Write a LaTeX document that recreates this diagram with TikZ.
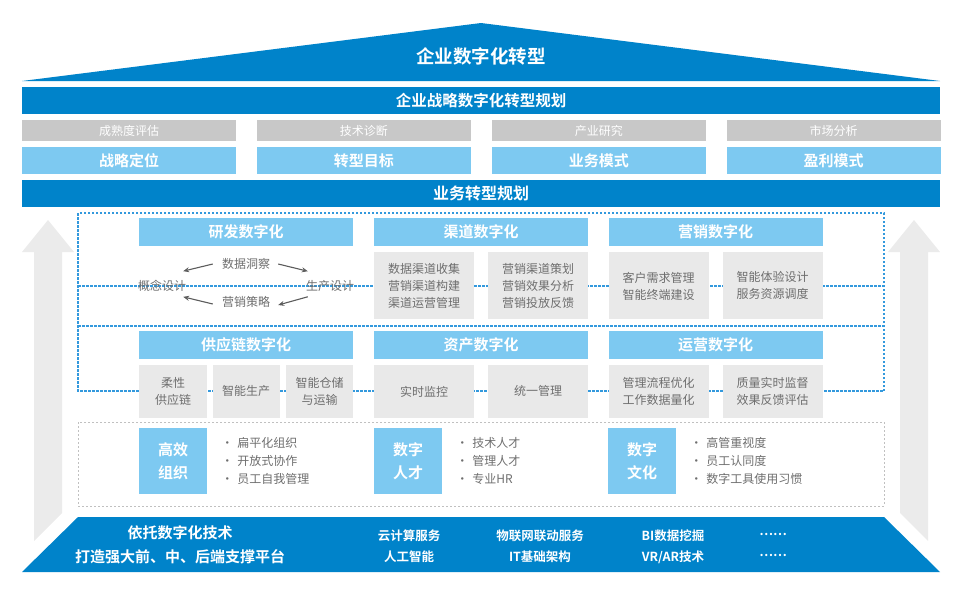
\documentclass[tikz,border=0pt]{standalone}
\usepackage{fontspec}
\setmainfont{Noto Sans CJK SC}[BoldFont={Noto Sans CJK SC Bold}]
\usetikzlibrary{positioning, calc, arrows.meta}
\definecolor{deepblue}{HTML}{0083CA}
\definecolor{skyblue}{HTML}{7DC9F1}
\definecolor{tagGray}{HTML}{C8C8C8}
\definecolor{cellGray}{HTML}{E9E9E9}
\definecolor{txtGray}{HTML}{6E6E6E}
\definecolor{arrowGray}{HTML}{EBEBEB}
\definecolor{arrowDark}{HTML}{5C5C5C}
\definecolor{dotBlue}{HTML}{3399DD}
\definecolor{frameGray}{HTML}{C0C0C0}

\begin{document}
\begin{tikzpicture}[
    x=1pt, y=-1pt,
    band/.style={fill=deepblue, text=white, inner sep=0pt,
        minimum width=918pt, minimum height=27pt},
    tag/.style={fill=tagGray, text=white, inner sep=0pt,
        minimum width=214pt, minimum height=21pt,
        font=\fontsize{12pt}{14pt}\selectfont},
    goal/.style={fill=skyblue, text=white, inner sep=0pt,
        minimum width=214pt, minimum height=27pt,
        font=\fontsize{15pt}{18pt}\selectfont\bfseries},
    head/.style={fill=skyblue, text=white, inner sep=0pt,
        minimum width=214pt, minimum height=28pt,
        font=\fontsize{15pt}{18pt}\selectfont\bfseries},
    graycell/.style={fill=cellGray, text=txtGray, inner sep=0pt, align=center,
        minimum width=100pt, font=\fontsize{12pt}{17pt}\selectfont},
    badge/.style={fill=skyblue, text=white, inner sep=0pt, align=center,
        minimum width=68pt, minimum height=66pt,
        font=\fontsize{15pt}{23pt}\selectfont\bfseries},
    points/.style={text=txtGray, inner sep=0pt, align=left, anchor=west,
        font=\fontsize{12pt}{18pt}\selectfont},
    cyclabel/.style={text=txtGray, inner sep=0pt,
        font=\fontsize{12pt}{14pt}\selectfont},
    cyc/.style={draw=arrowDark, line width=1.1pt,
        -{Stealth[length=6pt,width=5pt]}},
    bluedots/.style={draw=dotBlue, line width=1.2pt,
        dash pattern=on 2.5pt off 1.5pt},
    grayframe/.style={draw=frameGray, line width=0.8pt,
        dash pattern=on 2pt off 2pt},
    tech/.style={text=white, inner sep=0pt, align=center,
        font=\fontsize{12.5pt}{21pt}\selectfont\bfseries}
]
\useasboundingbox (0,0) rectangle (960,600);

% side arrows
\fill[arrowGray] (22,252) -- (48,220) -- (74,252) -- (62,252) -- (62,513)
    -- (34,541) -- (34,252) -- cycle;
\fill[arrowGray] (888,252) -- (914,220) -- (940,252) -- (928,252) -- (928,541)
    -- (900,513) -- (900,252) -- cycle;

% roof
\fill[deepblue] (22,81) -- (481,23) -- (940,81) -- cycle;
\node[text=white, font=\fontsize{18.5pt}{20pt}\selectfont\bfseries]
    (roof) at (481,56) {企业数字化转型};

\node[band, font=\fontsize{15.5pt}{18pt}\selectfont\bfseries]
    (strategy) at (481,100.5) {企业战略数字化转型规划};

\node[tag] (tag1) at (129,130.5) {成熟度评估};
\node[tag, right=20.5pt of tag1] (tag2) {技术诊断};
\node[tag, right=20.5pt of tag2] (tag3) {产业研究};
\node[tag, right=20.5pt of tag3] (tag4) {市场分析};

\node[goal, below=6pt of tag1] (goal1) {战略定位};
\node[goal, below=6pt of tag2] (goal2) {转型目标};
\node[goal, below=6pt of tag3] (goal3) {业务模式};
\node[goal, below=6pt of tag4] (goal4) {盈利模式};

\node[band, font=\fontsize{16pt}{18pt}\selectfont\bfseries]
    (business) at (481,193.5) {业务转型规划};

% dotted frame
\draw[bluedots] (78,213) rectangle (884,391);
\draw[bluedots] (78,286) -- (884,286);
\draw[bluedots] (78,326) -- (884,326);

\node[head] (rd) at (246,232) {研发数字化};
\node[head] (channel) at (481,232) {渠道数字化};
\node[head] (market) at (715.5,232) {营销数字化};
\node[head] (supply) at (246,344.5) {供应链数字化};
\node[head] (asset) at (481,344.5) {资产数字化};
\node[head] (ops) at (715.5,344.5) {运营数字化};

\node[cyclabel] (insight) at (246,264) {数据洞察};
\node[cyclabel] (tactic) at (246,302) {营销策略};
\node[cyclabel] (concept) at (162,286) {概念设计};
\node[cyclabel] (produce) at (330,286) {生产设计};

\draw[cyc] ([xshift=-9pt]insight.west)
    -- ([shift={(-3pt,9pt)}]concept.north east);
\draw[cyc] ([xshift=8pt]insight.east)
    -- ([shift={(2pt,9pt)}]produce.north west);
\draw[cyc] ([shift={(2pt,-5pt)}]produce.south west)
    -- ([shift={(8pt,-3pt)}]tactic.east);
\draw[cyc] ([shift={(-9pt,-2pt)}]tactic.west)
    -- ([shift={(-3pt,-5pt)}]concept.south east);

\node[graycell, minimum height=67pt, anchor=north west]
    (ch1) at ([yshift=-6pt]channel.south west) {数据渠道收集\\营销渠道构建\\渠道运营管理};
\node[graycell, minimum height=67pt, anchor=north east]
    (ch2) at ([yshift=-6pt]channel.south east) {营销渠道策划\\营销效果分析\\营销投放反馈};
\node[graycell, minimum height=67pt, anchor=north west]
    (mk1) at ([yshift=-6pt]market.south west) {客户需求管理\\智能终端建设};
\node[graycell, minimum height=67pt, anchor=north east]
    (mk2) at ([yshift=-6pt]market.south east) {智能体验设计\\服务资源调度};

\node[graycell, minimum height=53pt, minimum width=68pt, anchor=north west]
    (sp1) at ([yshift=-6pt]supply.south west) {柔性\\供应链};
\node[graycell, minimum height=53pt, minimum width=67pt, anchor=north]
    (sp2) at ([yshift=-6pt]supply.south) {智能生产};
\node[graycell, minimum height=53pt, minimum width=67pt, anchor=north east]
    (sp3) at ([yshift=-6pt]supply.south east) {智能仓储\\与运输};
\node[graycell, minimum height=53pt, anchor=north west]
    (as1) at ([yshift=-6pt]asset.south west) {实时监控};
\node[graycell, minimum height=53pt, anchor=north east]
    (as2) at ([yshift=-6pt]asset.south east) {统一管理};
\node[graycell, minimum height=53pt, anchor=north west]
    (op1) at ([yshift=-6pt]ops.south west) {管理流程优化\\工作数据量化};
\node[graycell, minimum height=53pt, anchor=north east]
    (op2) at ([yshift=-6pt]ops.south east) {质量实时监督\\效果反馈评估};

% organisation, talent, culture
\draw[grayframe] (78,422) rectangle (884,506);

\node[badge] (org) at (173,461) {高效\\组织};
\node[badge] (talent) at (408,461) {数字\\人才};
\node[badge] (culture) at (642,461) {数字\\文化};

\node[points, right=14pt of org] (orglist)
    {•\hspace{4pt}扁平化组织\\•\hspace{4pt}开放式协作\\•\hspace{4pt}员工自我管理};
\node[points, right=14pt of talent] (talentlist)
    {•\hspace{4pt}技术人才\\•\hspace{4pt}管理人才\\•\hspace{4pt}专业HR};
\node[points, right=14pt of culture] (culturelist)
    {•\hspace{4pt}高管重视度\\•\hspace{4pt}员工认同度\\•\hspace{4pt}数字工具使用习惯};

% platform
\fill[deepblue] (78,517) -- (884,517) -- (940,572) -- (22,572) -- cycle;
\node[tech, font=\fontsize{15pt}{24pt}\selectfont\bfseries]
    (base) at (180,545) {依托数字化技术\\打造强大前、中、后端支撑平台};
\node[tech] (cloud) at (409,546.5) {云计算服务\\人工智能};
\node[tech] (iot) at (540,546.5) {物联网联动服务\\IT基础架构};
\node[tech] (bi) at (673,546.5) {BI数据挖掘\\VR/AR技术};
\node[tech] (more) at (773,546.5) {\raisebox{4pt}{……}\\\raisebox{4pt}{……}};
\end{tikzpicture}
\end{document}
